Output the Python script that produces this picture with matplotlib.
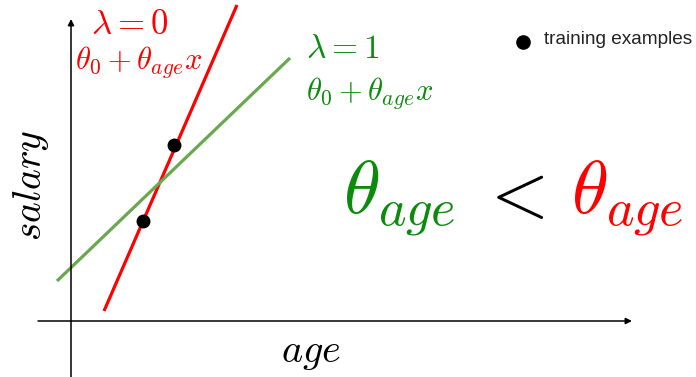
import matplotlib
matplotlib.use('Agg')
import matplotlib.pyplot as plt

plt.rcParams['mathtext.fontset'] = 'cm'

# data in "age" / "salary" units (origin where the axes cross)
train_age = [7.15, 10.25]
train_salary = [10.0, 17.6]
red_age = [3.3, 16.6]        # lambda = 0 fit
red_salary = [1.0, 31.6]
green_age = [-1.4, 21.9]     # lambda = 1 fit
green_salary = [4.0, 26.3]

red = '#ff0000'
green_line = '#6aa84f'
green_text = '#0b8a0b'

fig = plt.figure(figsize=(6.96, 3.77), dpi=100)
ax = fig.add_axes([0, 0, 1, 1])
ax.set_xlim(-7.1, 62.5)
ax.set_ylim(-5.6, 32.1)
ax.axis('off')

# axes arrows
ax.annotate('', xy=(56.1, 0), xytext=(-3.3, 0),
            arrowprops=dict(arrowstyle='-|>', lw=1.1, color='black', mutation_scale=9,
                            shrinkA=0, shrinkB=0))
ax.annotate('', xy=(0, 30.2), xytext=(0, -5.6),
            arrowprops=dict(arrowstyle='-|>', lw=1.1, color='black', mutation_scale=9,
                            shrinkA=0, shrinkB=0))

ax.plot(red_age, red_salary, color=red, lw=2.3, solid_capstyle='butt')
ax.plot(green_age, green_salary, color=green_line, lw=2.3, solid_capstyle='butt')
ax.plot(train_age, train_salary, 'o', color='black', ms=9, zorder=5)

# labels
ax.text(24.0, -3.15, r'$age$', fontsize=29, ha='center', va='center')
ax.text(-4.0, 13.6, r'$salary$', fontsize=28.5, ha='center', va='center', rotation=90)

ax.text(5.9, 29.7, r'$\lambda = 0$', color=red, fontsize=25, ha='center', va='center')
ax.text(6.75, 25.85, r'$\theta_0 + \theta_{age}x$', color=red, fontsize=22, ha='center', va='center')
ax.text(27.15, 27.25, r'$\lambda = 1$', color=green_text, fontsize=24, ha='center', va='center')
ax.text(29.9, 22.8, r'$\theta_0 + \theta_{age}x$', color=green_text, fontsize=22, ha='center', va='center')

ax.text(32.8, 12.2, r'$\theta_{age}$', color=green_text, fontsize=54, ha='center', va='center')
ax.text(44.0, 12.55, r'$<$', color='black', fontsize=54, ha='center', va='center')
ax.text(55.6, 12.2, r'$\theta_{age}$', color=red, fontsize=54, ha='center', va='center')

# legend marker
ax.plot([45.2], [27.9], 'o', color='black', ms=9.5)
ax.text(47.3, 28.1, 'training examples', fontsize=13.7, family='Liberation Sans',
        ha='left', va='center', color='#222222')

fig.savefig('out.png', dpi=100)
